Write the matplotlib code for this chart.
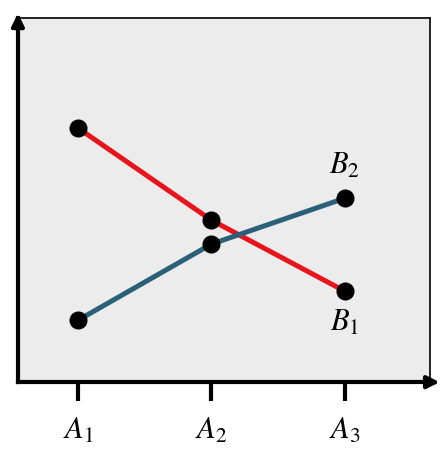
import matplotlib
matplotlib.use("Agg")
import matplotlib.pyplot as plt

plt.rcParams["mathtext.fontset"] = "stix"

levels = [1, 2, 3]
level_labels = ["$A_1$", "$A_2$", "$A_3$"]
b1_values = [6.98, 4.45, 2.50]
b2_values = [1.70, 3.79, 5.05]

fig = plt.figure(figsize=(4.48, 4.61), dpi=100)
ax = fig.add_axes([0.040, 0.171, 0.92, 0.79])
ax.set_facecolor("#ececec")

ax.plot(levels, b1_values, color="#e8141c", lw=3.6, zorder=2)
ax.plot(levels, b2_values, color="#2b6079", lw=3.6, zorder=2)
ax.plot(levels, b1_values, "o", color="black", ms=12, zorder=3)
ax.plot(levels, b2_values, "o", color="black", ms=12, zorder=3)

ax.text(3.0, 5.55, "$B_2$", fontsize=22, ha="center", va="bottom")
ax.text(3.0, 2.05, "$B_1$", fontsize=22, ha="center", va="top")

ax.set_xlim(0.55, 3.64)
ax.set_ylim(0, 10)
ax.set_xticks(levels)
ax.set_xticklabels(level_labels, fontsize=22)
ax.set_yticks([])
ax.tick_params(axis="x", direction="out", length=14, width=3, pad=10)

for side in ["top", "right"]:
    ax.spines[side].set_linewidth(1.2)
for side in ["left", "bottom"]:
    ax.spines[side].set_linewidth(3)

# arrows on the axes
ax.annotate("", xy=(0, 1.02), xytext=(0, 0.98), xycoords="axes fraction",
            arrowprops=dict(arrowstyle="-|>", color="black", lw=3, mutation_scale=18),
            annotation_clip=False)
ax.annotate("", xy=(1.03, 0), xytext=(0.99, 0), xycoords="axes fraction",
            arrowprops=dict(arrowstyle="-|>", color="black", lw=3, mutation_scale=18),
            annotation_clip=False)

fig.savefig("out.png", dpi=100)
